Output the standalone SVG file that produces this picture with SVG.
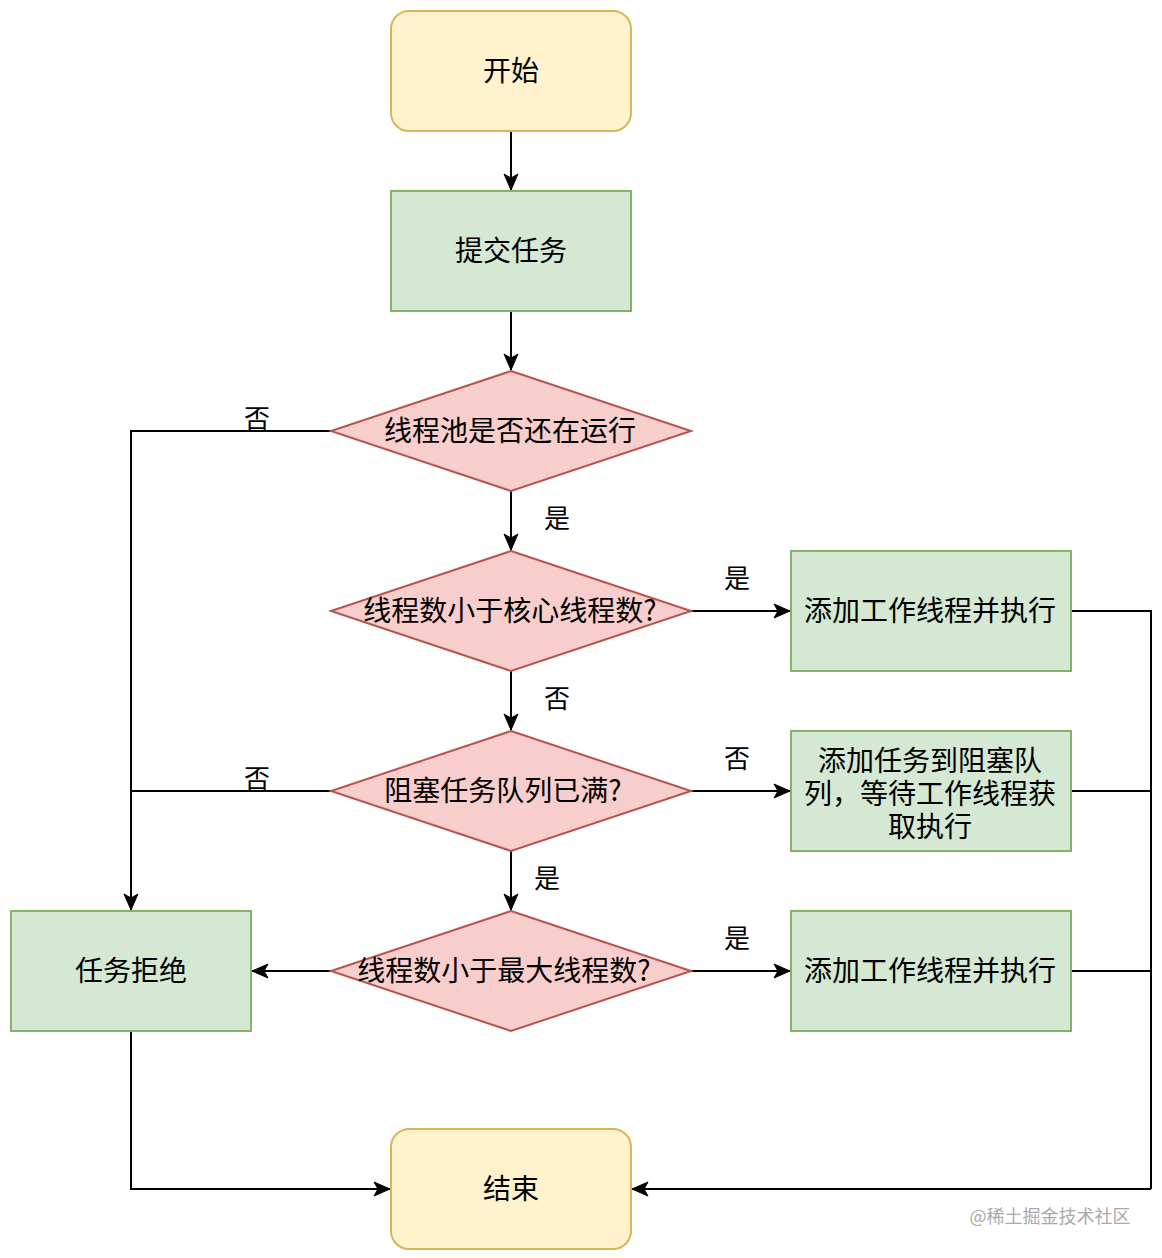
<svg xmlns="http://www.w3.org/2000/svg" width="1162" height="1258" viewBox="0 0 1162 1258">
<defs>
<style>
.t{font-family:"Noto Sans CJK SC","Liberation Sans",sans-serif;font-size:28px;fill:#000;text-anchor:middle;dominant-baseline:central}
.lbl{font-family:"Noto Sans CJK SC","Liberation Sans",sans-serif;font-size:26px;fill:#000;text-anchor:middle;dominant-baseline:central}
.y{fill:#fff2cc;stroke:#d6b656;stroke-width:2}
.g{fill:#d5e8d4;stroke:#82b366;stroke-width:2}
.r{fill:#f8cecc;stroke:#b85450;stroke-width:2}
.e{fill:none;stroke:#000;stroke-width:2}
.a{marker-end:url(#arr)}
</style>
<marker id="arr" markerUnits="userSpaceOnUse" markerWidth="20" markerHeight="20" viewBox="0 0 20 20" refX="17" refY="10" orient="auto">
<path d="M1,3 L17,10 L1,17 L5,10 Z" fill="#000" stroke="#000" stroke-width="1"/>
</marker>
</defs>
<rect width="1162" height="1258" fill="#fff"/>
<g id="edges">
<path class="e a" d="M511,131 V190"/>
<path class="e a" d="M511,311 V370"/>
<path class="e a" d="M331,431 H131 V910"/>
<path class="e a" d="M511,491 V550"/>
<path class="e a" d="M691,611 H790"/>
<path class="e a" d="M511,671 V730"/>
<path class="e" d="M331,791 H131"/>
<path class="e a" d="M691,791 H790"/>
<path class="e a" d="M511,851 V910"/>
<path class="e a" d="M331,971 H252"/>
<path class="e a" d="M691,971 H790"/>
<path class="e" d="M1071,611 H1151 V1189"/>
<path class="e" d="M1071,791 H1151"/>
<path class="e" d="M1071,971 H1151"/>
<path class="e a" d="M1151,1189 H632"/>
<path class="e a" d="M131,1031 V1189 H390"/>
<text class="lbl" x="257" y="416">否</text>
<text class="lbl" x="557" y="516">是</text>
<text class="lbl" x="737" y="576">是</text>
<text class="lbl" x="557" y="696">否</text>
<text class="lbl" x="257" y="776">否</text>
<text class="lbl" x="737" y="756">否</text>
<text class="lbl" x="547" y="876">是</text>
<text class="lbl" x="737" y="936">是</text>
</g>
<g id="start"><rect class="y" x="391" y="11" width="240" height="120" rx="18"/><text class="t" x="511" y="69">开始</text></g>
<g id="submit"><rect class="g" x="391" y="191" width="240" height="120"/><text class="t" x="511" y="249">提交任务</text></g>
<g id="d1"><polygon class="r" points="511,371 691,431 511,491 331,431"/><text class="t" x="510" y="429">线程池是否还在运行</text></g>
<g id="d2"><polygon class="r" points="511,551 691,611 511,671 331,611"/><text class="t" x="510" y="609">线程数小于核心线程数?</text></g>
<g id="d3"><polygon class="r" points="511,731 691,791 511,851 331,791"/><text class="t" x="503" y="789">阻塞任务队列已满?</text></g>
<g id="d4"><polygon class="r" points="511,911 691,971 511,1031 331,971"/><text class="t" x="504" y="969">线程数小于最大线程数?</text></g>
<g id="addworker1"><rect class="g" x="791" y="551" width="280" height="120"/><text class="t" x="930" y="609">添加工作线程并执行</text></g>
<g id="addqueue"><rect class="g" x="791" y="731" width="280" height="120"/><text class="t" x="930" y="759">添加任务到阻塞队</text><text class="t" x="930" y="792">列，等待工作线程获</text><text class="t" x="930" y="825">取执行</text></g>
<g id="addworker2"><rect class="g" x="791" y="911" width="280" height="120"/><text class="t" x="930" y="969">添加工作线程并执行</text></g>
<g id="reject"><rect class="g" x="11" y="911" width="240" height="120"/><text class="t" x="131" y="969">任务拒绝</text></g>
<g id="end"><rect class="y" x="391" y="1129" width="240" height="120" rx="18"/><text class="t" x="511" y="1187">结束</text></g>
<text x="1050" y="1215" font-family="Noto Sans CJK SC, sans-serif" font-size="18" fill="#aaaaaa" text-anchor="middle" dominant-baseline="central">@稀土掘金技术社区</text>
</svg>
